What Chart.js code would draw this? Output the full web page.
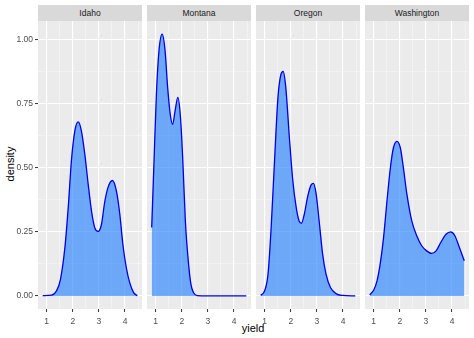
<!DOCTYPE html>
<html>
<head>
<meta charset="utf-8">
<script src="https://cdn.jsdelivr.net/npm/chart.js@4/dist/chart.umd.min.js"></script>
<style>
  body { margin: 0; width: 474px; height: 338px; background: #fff; position: relative; overflow: hidden;
         font-family: "Liberation Sans", Arial, sans-serif; }
  .strip { position: absolute; top: 5px; height: 16px; width: 104px; background: #D9D9D9; color: #1A1A1A;
           font-size: 8.5px; text-align: center; line-height: 16px; }
  canvas { position: absolute; top: 21px; }
  .ylab { position: absolute; left: 10px; top: 164px; font-size: 11px; color: #000;
          transform: translate(-50%, -50%) rotate(-90deg); white-space: nowrap; }
  .xlab { position: absolute; left: 253px; top: 328px; font-size: 11px; color: #000;
          transform: translate(-50%, -50%); }
</style>
</head>
<body>
<div class="ylab">density</div>
<div class="xlab">yield</div>
<script>
const states = ['Idaho', 'Montana', 'Oregon', 'Washington'];

const idahoX = [0.85,1.19,1.38,1.53,1.70,1.83,1.95,2.08,2.21,2.33,2.46,2.59,2.72,2.84,2.97,3.10,3.22,3.35,3.52,3.67,3.80,3.92,4.05,4.18,4.33,4.47];
const idahoY = [0.001,0.003,0.02,0.065,0.19,0.35,0.53,0.645,0.68,0.645,0.555,0.437,0.33,0.267,0.252,0.28,0.365,0.424,0.451,0.41,0.32,0.2,0.11,0.052,0.013,0.001];

const montanaX = [0.85,0.94,1.03,1.13,1.25,1.36,1.46,1.56,1.65,1.74,1.85,1.95,2.04,2.14,2.25,2.35,2.45,2.59,3.0,3.5,4.0,4.47];
const montanaY = [0.267,0.53,0.79,0.96,1.023,0.96,0.815,0.71,0.67,0.72,0.776,0.70,0.53,0.29,0.137,0.046,0.013,0.001,0,0,0,0];

const oregonX = [0.85,1.0,1.13,1.25,1.38,1.51,1.61,1.71,1.81,1.94,2.07,2.21,2.32,2.41,2.52,2.65,2.78,2.87,2.97,3.10,3.22,3.35,3.52,3.73,3.99,4.47];
const oregonY = [0.002,0.02,0.085,0.267,0.53,0.776,0.86,0.877,0.815,0.63,0.46,0.345,0.293,0.284,0.32,0.39,0.434,0.44,0.40,0.28,0.163,0.085,0.033,0.009,0.002,0];

const washingtonX = [0.85,1.0,1.13,1.25,1.38,1.51,1.64,1.76,1.89,2.02,2.14,2.27,2.46,2.65,2.84,3.03,3.22,3.39,3.57,3.77,3.95,4.11,4.28,4.47];
const washingtonY = [0.004,0.022,0.059,0.124,0.228,0.37,0.50,0.58,0.604,0.58,0.50,0.40,0.293,0.235,0.196,0.176,0.166,0.176,0.209,0.241,0.25,0.235,0.19,0.137];

const xTicks = [1, 1.5, 2, 2.5, 3, 3.5, 4, 4.5];
const yTicks = [0, 0.125, 0.25, 0.375, 0.5, 0.625, 0.75, 0.875, 1];

const series = [[idahoX, idahoY], [montanaX, montanaY], [oregonX, oregonY], [washingtonX, washingtonY]];

const panelLeft = [38, 147, 256, 365];
const panelW = 104, panelH = 288, xAxisH = 24;

function gridOpts(major) {
  return {
    drawTicks: true,
    tickLength: 3,
    color: c => major(c.tick.value) ? '#FFFFFF' : 'rgba(255,255,255,0.75)',
    lineWidth: c => major(c.tick.value) ? 1.1 : 0.5,
    tickColor: c => major(c.tick.value) ? '#333333' : 'rgba(0,0,0,0)',
    tickWidth: 1
  };
}
const xMajor = v => Number.isInteger(v);
const yMajor = v => Number.isInteger(v * 4);

// kill the label padding chart.js reserves around the chart area
const noPad = s => { s.paddingTop = 0; s.paddingBottom = 0; s.paddingLeft = 0; s.paddingRight = 0; };

states.forEach((name, i) => {
  const strip = document.createElement('div');
  strip.className = 'strip';
  strip.style.left = panelLeft[i] + 'px';
  strip.textContent = name;
  document.body.appendChild(strip);

  const yW = i === 0 ? 38 : 0;
  const cv = document.createElement('canvas');
  cv.width = panelW + yW;
  cv.height = panelH + xAxisH;
  cv.style.left = (panelLeft[i] - yW) + 'px';
  document.body.appendChild(cv);

  const [xs, ys] = series[i];
  const pts = xs.map((x, k) => ({ x: x, y: ys[k] }));

  new Chart(cv, {
    type: 'line',
    data: {
      datasets: [{
        data: pts,
        borderColor: '#0000E6',
        borderWidth: 1.3,
        backgroundColor: 'rgba(40,130,255,0.65)',
        fill: 'origin',
        pointRadius: 0,
        cubicInterpolationMode: 'monotone'
      }]
    },
    options: {
      responsive: false,
      animation: false,
      devicePixelRatio: 1,
      layout: { padding: 0, autoPadding: false },
      plugins: { legend: { display: false }, tooltip: { enabled: false } },
      scales: {
        x: {
          type: 'linear',
          min: 0.67, max: 4.65,
          afterBuildTicks: s => { s.ticks = xTicks.map(v => ({ value: v })); },
          afterFit: s => { s.height = xAxisH; noPad(s); },
          border: { display: false },
          grid: gridOpts(xMajor),
          ticks: {
            autoSkip: false, maxRotation: 0, padding: 5,
            color: '#4D4D4D', font: { family: 'Liberation Sans', size: 8.5 },
            callback: v => Number.isInteger(v) ? String(v) : ''
          }
        },
        y: {
          type: 'linear',
          min: -0.0512, max: 1.0743,
          afterBuildTicks: s => { s.ticks = yTicks.map(v => ({ value: v })); },
          afterFit: s => { s.width = yW; noPad(s); },
          border: { display: false },
          grid: Object.assign(gridOpts(yMajor), { drawTicks: i === 0 }),
          ticks: {
            display: i === 0, padding: 2,
            color: '#4D4D4D', font: { family: 'Liberation Sans', size: 8.5 },
            callback: v => yMajor(v) ? v.toFixed(2) : ''
          }
        }
      }
    },
    plugins: [{
      id: 'panelBg',
      beforeDraw: c => {
        const a = c.chartArea, g = c.ctx;
        g.save();
        g.fillStyle = '#EBEBEB';
        g.fillRect(a.left, a.top, a.right - a.left, a.bottom - a.top);
        g.restore();
      }
    }]
  });
});
</script>
</body>
</html>
